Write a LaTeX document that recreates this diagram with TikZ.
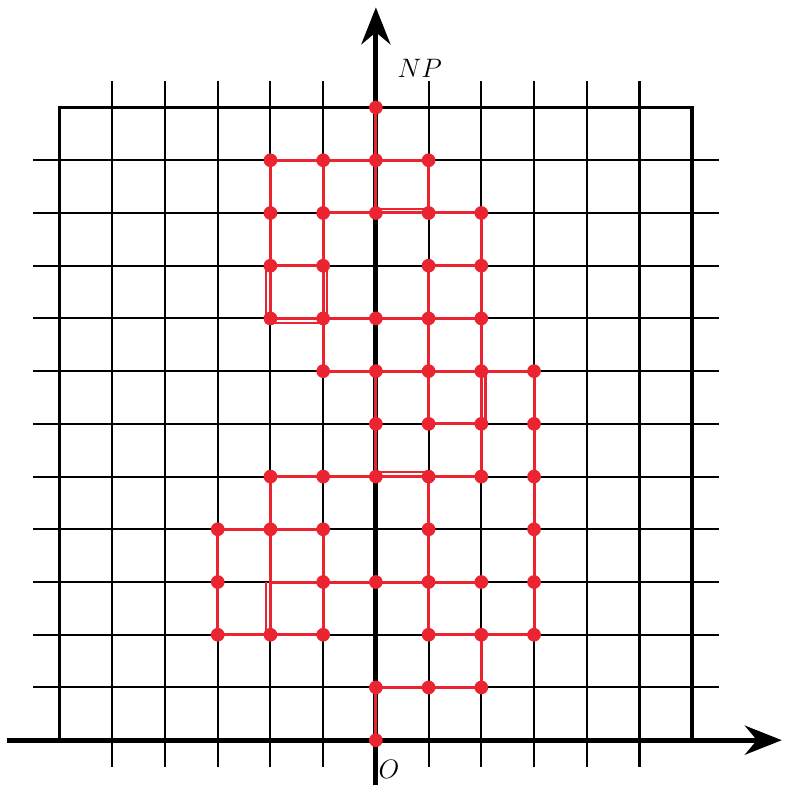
\documentclass[tikz,border=0pt]{standalone}
\usepackage{tikz}
\usetikzlibrary{arrows.meta}
\definecolor{walkred}{RGB}{234,36,48}

\begin{document}
\begin{tikzpicture}[
    gridline/.style={black, line width=1.1pt},
    frame/.style={black, line width=2pt},
    axis/.style={-{Stealth[length=7mm, width=5.5mm]}, line width=2.8pt},
    walk/.style={walkred, line width=1.6pt, line join=round},
    twin/.style={walkred, line width=1.2pt, line join=round},
    site/.style={circle, fill=walkred, inner sep=0pt, minimum size=2.6mm},
    lbl/.style={font=\fontsize{15}{18}\selectfont}
  ]
    \useasboundingbox (-7.13,-0.97) rectangle (7.95,14.04);

    % lattice
    \foreach \i in {-5,...,-1,1,2,...,5}
      \draw[gridline] (\i,-0.5) -- (\i,12.5);
    \foreach \j in {1,...,11}
      \draw[gridline] (-6.5,\j) -- (6.5,\j);
    \draw[frame] (-6,0) -- (-6,12) -- (6,12) -- (6,0);

    % axes
    \coordinate (xstart) at (-7,0);
    \coordinate (xend) at (7.7,0);
    \coordinate (ystart) at (0,-0.85);
    \coordinate (yend) at (0,13.9);
    \draw[axis] (xstart) -- (xend);
    \draw[axis] (ystart) -- (yend);
    \node[lbl] (np) at (0.83,12.75) {$NP$};
    \node[lbl] (orig) at (0.25,-0.55) {$O$};

    % the walk
    \draw[walk] (0,0) -- (0,1) -- (2,1) -- (2,2) -- (3,2) -- (3,7) -- (-1,7) -- (-1,11)
      -- (1,11) -- (1,10) -- (2,10) -- (2,5) -- (-2,5) -- (-2,2) -- (-3,2) -- (-3,4)
      -- (-1,4) -- (-1,2) -- (-2,2);
    \draw[walk] (-1,11) -- (-2,11) -- (-2,8) -- (2,8);
    \draw[walk] (0,12) -- (0,10);
    \draw[walk] (-1,10) -- (1,10);
    \draw[walk] (-2,9) -- (-1,9);
    \draw[walk] (2,9) -- (1,9) -- (1,6) -- (2,6);
    \draw[walk] (0,7) -- (0,5);
    \draw[walk] (1,5) -- (1,2) -- (2,2);
    \draw[walk] (-2,3) -- (2,3);

    % edges walked twice
    \draw[twin] (0,10.08) -- (1,10.08);
    \draw[twin] (-2.08,9) -- (-2.08,7.92) -- (-0.92,7.92) -- (-0.92,9);
    \draw[twin] (2.08,6) -- (2.08,7);
    \draw[twin] (0,5.08) -- (1,5.08);
    \draw[twin] (-2.08,2) -- (-2.08,3);

    % visited sites
    \foreach \y/\xs in {12/{0}, 11/{-2,-1,0,1}, 10/{-2,-1,0,1,2}, 9/{-2,-1,1,2},
        8/{-2,-1,0,1,2}, 7/{-1,0,1,2,3}, 6/{0,1,2,3}, 5/{-2,-1,0,1,2,3},
        4/{-3,-2,-1,1,3}, 3/{-3,-1,0,1,2,3}, 2/{-3,-2,-1,1,2,3}, 1/{0,1,2}, 0/{0}}
      \foreach \x in \xs
        \node[site] (d\x\y) at (\x,\y) {};
  \end{tikzpicture}
\end{document}
